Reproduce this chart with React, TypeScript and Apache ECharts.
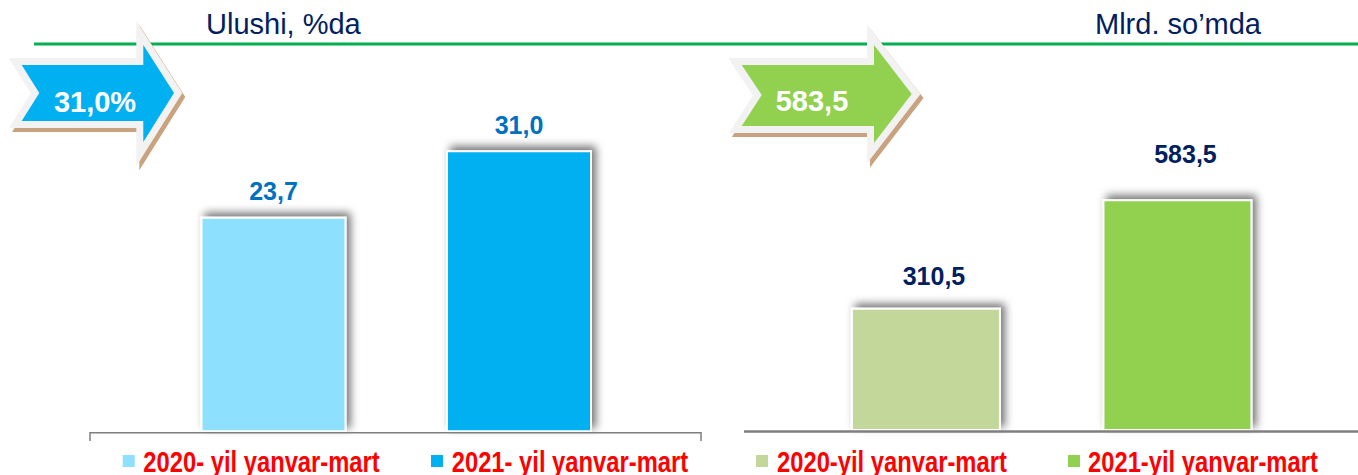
import React, { useEffect, useRef } from "react";
import * as echarts from "echarts";

const periods = ["2020 yanvar-mart", "2021 yanvar-mart"];
const shareNames = ["2020- yil yanvar-mart", "2021- yil yanvar-mart"];
const amountNames = ["2020-yil yanvar-mart", "2021-yil yanvar-mart"];
const shareValues = [23.7, 31.0];
const amountValues = [310.5, 583.5];
const shareTitle = "Ulushi, %da";
const amountTitle = "Mlrd. so\u2019mda";

const shareColors = ["#8DE0FE", "#00B0F0"];
const amountColors = ["#C4D79B", "#92D050"];
const amountLabelDist = [19, 33];

const SANS = '"Liberation Sans", Arial, sans-serif';

const fmt = (v: number) => v.toFixed(1).replace(".", ",");

function arrow(points: number[][], color: string, text: string, tx: number, ty: number) {
  const shadow = points.map(([x, y]) => [x + 3, y + 4]);
  return [
    {
      type: "polygon",
      shape: { points: shadow },
      style: { fill: "#C9A27F", stroke: "#C9A27F", lineWidth: 14, lineJoin: "miter", miterLimit: 10 },
      z: 10,
    },
    {
      type: "polygon",
      shape: { points },
      style: { fill: "#F2F2F2", stroke: "#F2F2F2", lineWidth: 14, lineJoin: "miter", miterLimit: 10 },
      z: 11,
    },
    { type: "polygon", shape: { points }, style: { fill: color }, z: 12 },
    {
      type: "text",
      x: tx,
      y: ty,
      style: { text, fill: "#FFFFFF", font: `bold 29px ${SANS}`, align: "center", verticalAlign: "middle" },
      z: 13,
    },
  ];
}

function legendItem(name: string, color: string, sx: number, tx: number) {
  return [
    { type: "rect", shape: { x: sx, y: 455, width: 12, height: 12 }, style: { fill: color }, z: 5 },
    {
      type: "text",
      x: tx,
      y: 462,
      scaleX: 0.82,
      style: { text: name, fill: "#FF0000", font: `bold 29px ${SANS}`, align: "left", verticalAlign: "middle" },
      z: 5,
    },
  ];
}

export default function App() {
  const ref = useRef<HTMLDivElement>(null);

  useEffect(() => {
    document.body.style.margin = "0";
    const chart = echarts.init(ref.current!, undefined, { renderer: "svg" });

    const barStyle = (color: string) => ({
      color,
      borderColor: "#FFFFFF",
      borderWidth: 2,
      shadowBlur: 8,
      shadowColor: "rgba(0,0,0,0.55)",
      shadowOffsetX: 4,
      shadowOffsetY: -4,
    });

    const leftSeries = shareNames.map((name, i) => ({
      type: "bar",
      name,
      xAxisIndex: 0,
      yAxisIndex: 0,
      barWidth: 146,
      barGap: "-100%",
      data: shareValues.map((v, j) => (j === i ? v : "-")),
      itemStyle: barStyle(shareColors[i]),
      label: {
        show: true,
        position: "top",
        distance: 13,
        formatter: (p: any) => fmt(p.value),
        color: "#0070C0",
        fontFamily: SANS,
        fontWeight: "bold",
        fontSize: 25,
      },
    }));

    const rightSeries = amountNames.map((name, i) => ({
      type: "bar",
      name,
      xAxisIndex: 1,
      yAxisIndex: 1,
      barWidth: 150,
      barGap: "-100%",
      data: amountValues.map((v, j) => (j === i ? v : "-")),
      itemStyle: barStyle(amountColors[i]),
      label: {
        show: true,
        position: "top",
        distance: amountLabelDist[i],
        offset: [8, 0],
        formatter: (p: any) => fmt(p.value),
        color: "#002060",
        fontFamily: SANS,
        fontWeight: "bold",
        fontSize: 25,
      },
    }));

    const blueArrow = [
      [21.7, 65], [143.3, 65], [143.3, 45], [174, 93], [143.3, 142],
      [143.3, 121], [21.7, 121], [39.3, 93],
    ];
    const greenArrow = [
      [741.7, 65], [874, 65], [874, 45], [911.7, 94], [874, 143],
      [874, 126], [741.7, 126], [761.7, 95],
    ];

    chart.setOption({
      animation: false,
      backgroundColor: "#FFFFFF",
      grid: [
        { left: 150.75, right: 1358 - 641.75, top: 68.3, bottom: 475 - 432.3 },
        { left: 800.2, right: 1358 - 1303.2, top: 113.4, bottom: 475 - 431 },
      ],
      xAxis: [
        { type: "category", gridIndex: 0, data: periods, show: false },
        { type: "category", gridIndex: 1, data: periods, show: false },
      ],
      yAxis: [
        { type: "value", gridIndex: 0, min: 0, max: 40, show: false, splitLine: { show: false } },
        { type: "value", gridIndex: 1, min: 0, max: 800, show: false, splitLine: { show: false } },
      ],
      graphic: [
        {
          type: "line",
          shape: { x1: 34, y1: 44, x2: 1358, y2: 44 },
          style: { stroke: "#00B050", lineWidth: 3 },
          z: 5,
        },
        {
          type: "text",
          x: 206,
          y: 24,
          style: { text: shareTitle, fill: "#002060", font: `29px ${SANS}`, align: "left", verticalAlign: "middle" },
          z: 5,
        },
        {
          type: "text",
          x: 1095,
          y: 24,
          style: { text: amountTitle, fill: "#002060", font: `29px ${SANS}`, align: "left", verticalAlign: "middle" },
          z: 5,
        },
        {
          type: "polyline",
          shape: { points: [[90, 441], [90, 432.8], [701, 432.8], [701, 441]] },
          style: { stroke: "#7F7F7F", lineWidth: 1.5, fill: null },
          z: 5,
        },
        {
          type: "line",
          shape: { x1: 744, y1: 431.5, x2: 1358, y2: 431.5 },
          style: { stroke: "#7F7F7F", lineWidth: 2.5 },
          z: 5,
        },
        ...legendItem(shareNames[0], shareColors[0], 122.7, 143.3),
        ...legendItem(shareNames[1], shareColors[1], 431, 451.7),
        ...legendItem(amountNames[0], amountColors[0], 756, 777),
        ...legendItem(amountNames[1], amountColors[1], 1068, 1088),
        ...arrow(blueArrow, "#00B0F0", `${fmt(shareValues[1])}%`, 95, 102),
        ...arrow(greenArrow, "#92D050", fmt(amountValues[1]), 812, 101),
      ],
      series: [...leftSeries, ...rightSeries],
    });

    return () => chart.dispose();
  }, []);

  return (
    <div
      ref={ref}
      style={{ position: "absolute", left: 0, top: 0, width: 1358, height: 475 }}
    />
  );
}
